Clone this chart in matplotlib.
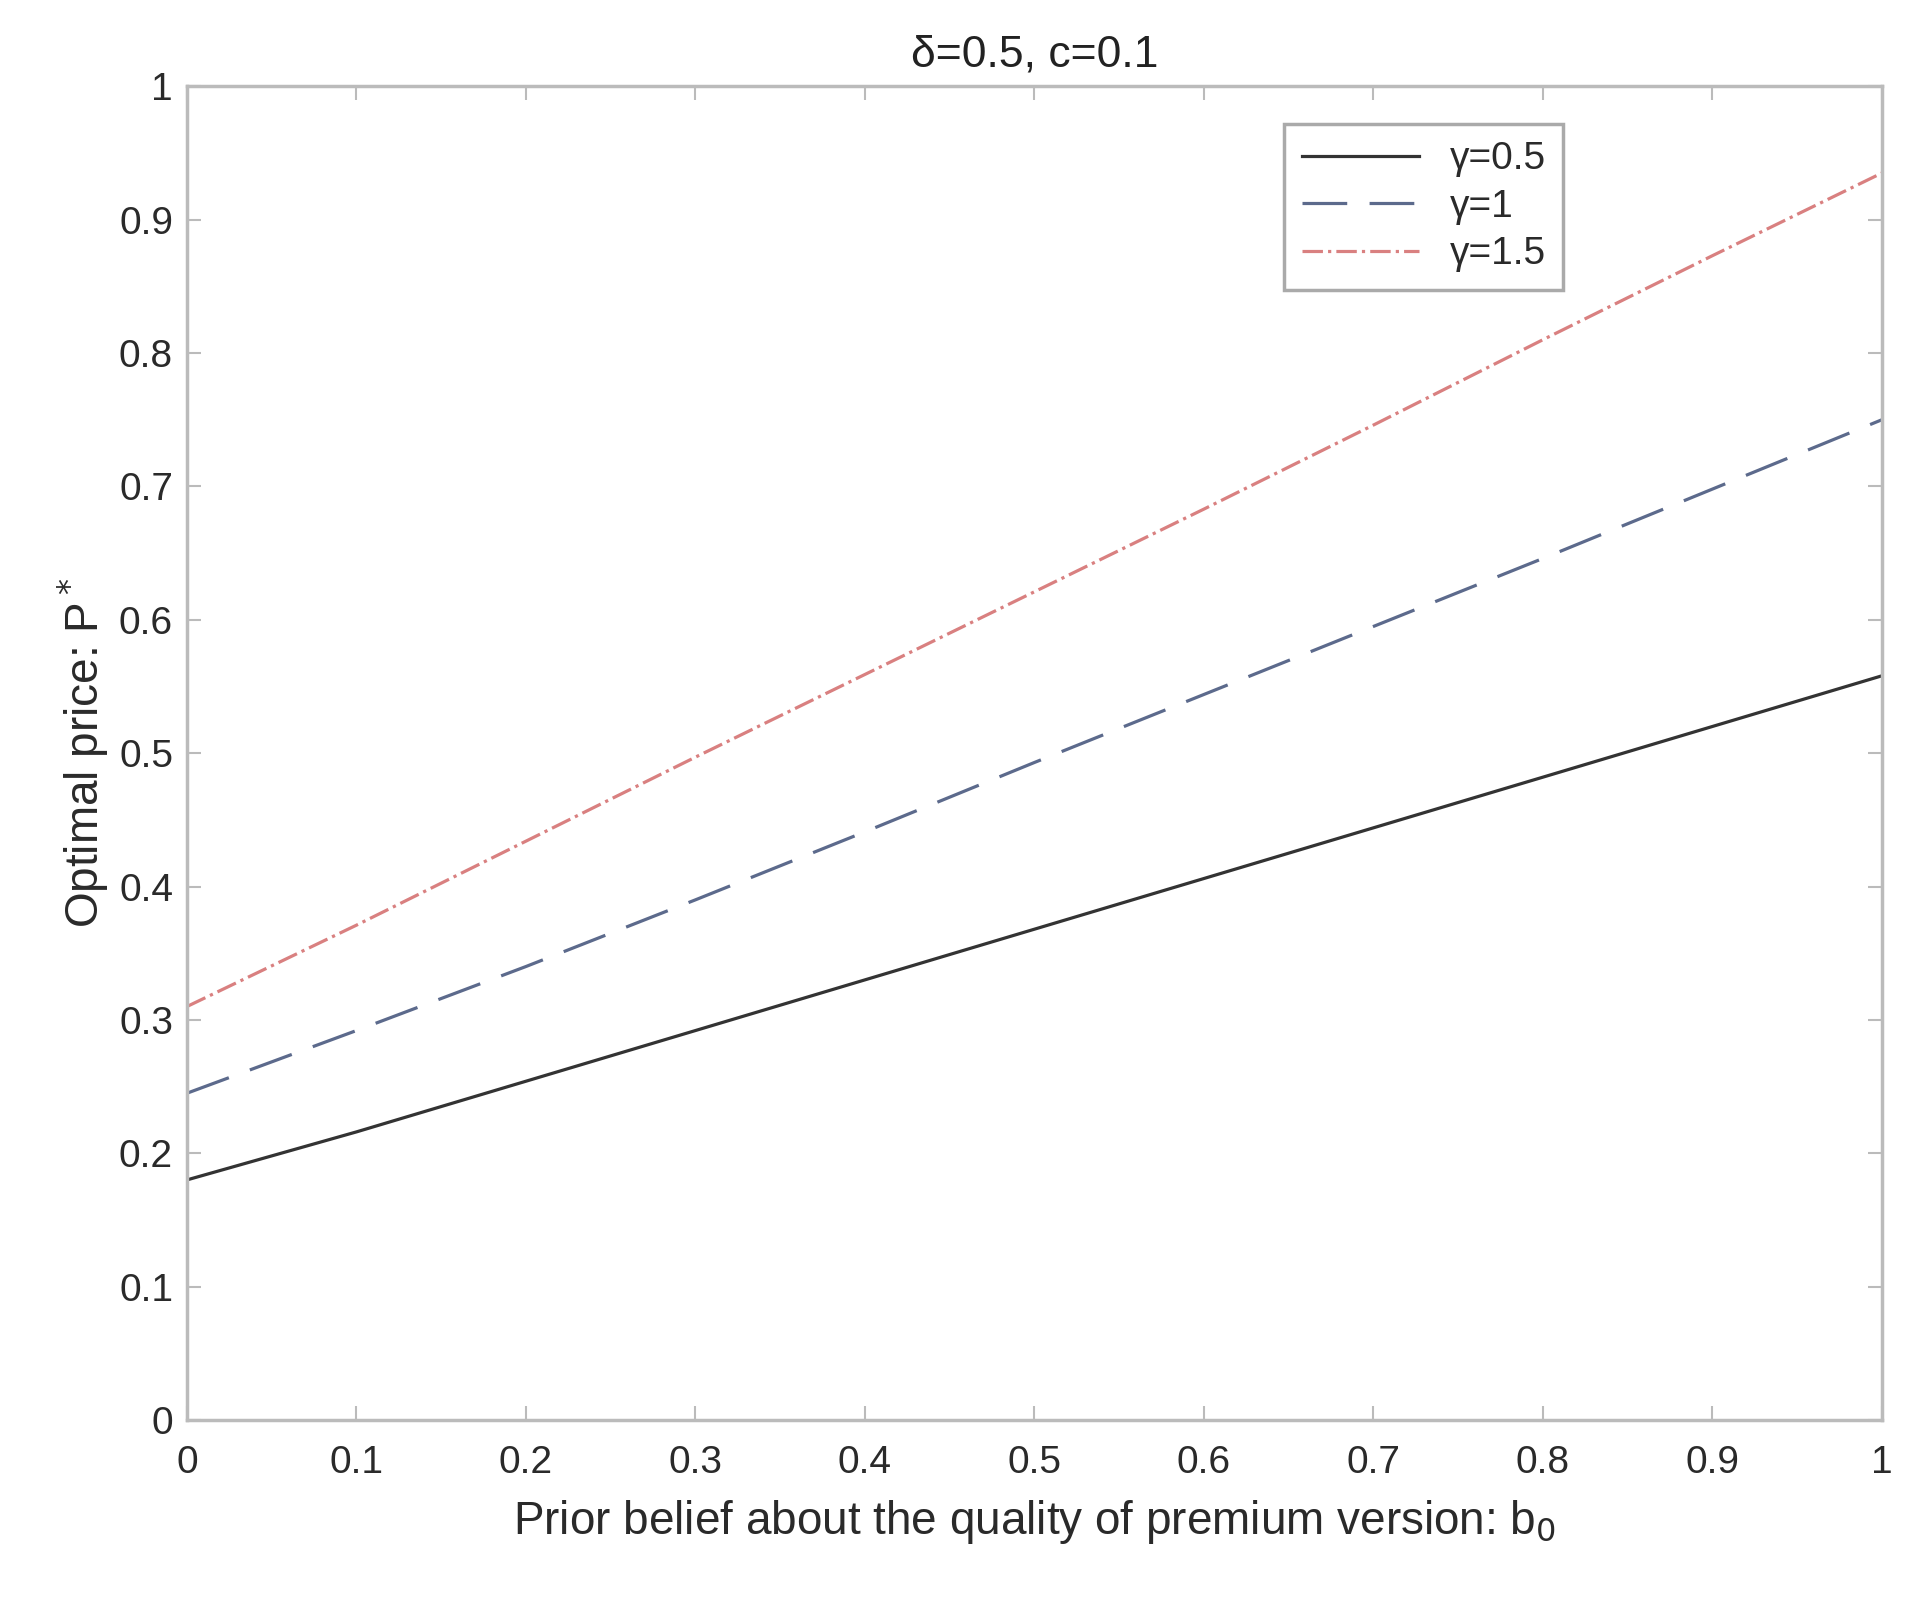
import matplotlib
matplotlib.use('Agg')
import matplotlib.pyplot as plt
import numpy as np

plt.rcParams['font.family'] = ['Liberation Sans', 'DejaVu Sans']

b0 = [0.0, 0.1, 0.2, 0.3, 0.4, 0.5, 0.6, 0.7, 0.8, 0.9, 1.0]
p_g05 = [0.18, 0.216, 0.254, 0.292, 0.330, 0.368, 0.406, 0.444, 0.482, 0.520, 0.558]
p_g1 = [0.245, 0.292, 0.340, 0.390, 0.441, 0.493, 0.544, 0.595, 0.646, 0.698, 0.750]
p_g15 = [0.31, 0.371, 0.434, 0.497, 0.559, 0.621, 0.683, 0.746, 0.810, 0.873, 0.935]
labels = ['γ=0.5', 'γ=1', 'γ=1.5']
ticklabels = ['0', '0.1', '0.2', '0.3', '0.4', '0.5', '0.6', '0.7', '0.8', '0.9', '1']

fig = plt.figure(figsize=(19.33, 15.98), dpi=100)
ax = fig.add_axes([0.0967, 0.1114, 0.8769, 0.8346])

ax.plot(b0, p_g05, '-', color='#333333', lw=2.3, label=labels[0])
ax.plot(b0, p_g1, '--', color='#5c6a8c', lw=2.3, dashes=(14, 7), label=labels[1])
ax.plot(b0, p_g15, '-.', color='#d98080', lw=2.3, label=labels[2])

ax.set_xlim(0, 1)
ax.set_ylim(0, 1)
ax.set_xticks(np.arange(0, 1.01, 0.1))
ax.set_yticks(np.arange(0, 1.01, 0.1))
ax.set_xticklabels(ticklabels)
ax.set_yticklabels(ticklabels)
ax.tick_params(direction='in', top=True, right=True, length=10, width=1.5,
               colors='#bbbbbb', labelcolor='#2a2a2a', labelsize=28)
ax.tick_params(axis='x', pad=18)
ax.tick_params(axis='y', pad=10)
for s in ax.spines.values():
    s.set_color('#bbbbbb')
    s.set_linewidth(2.5)

ax.set_xlabel('Prior belief about the quality of premium version: b$_0$', fontsize=33,
              color='#2a2a2a', labelpad=12)
ax.set_ylabel('Optimal price: P$^*$', fontsize=33, color='#2a2a2a', labelpad=6)
ax.set_title('δ=0.5, c=0.1', fontsize=32, color='#222222', pad=14)

leg = ax.legend(loc='upper right', bbox_to_anchor=(0.812, 0.972), fontsize=28,
                fancybox=False, edgecolor='#aaaaaa', handlelength=3.0, framealpha=1,
                borderpad=0.45, labelspacing=0.3, borderaxespad=0)
leg.get_frame().set_linewidth(2.5)
for t in leg.get_texts():
    t.set_color('#2a2a2a')

fig.savefig('out.png', dpi=100)
